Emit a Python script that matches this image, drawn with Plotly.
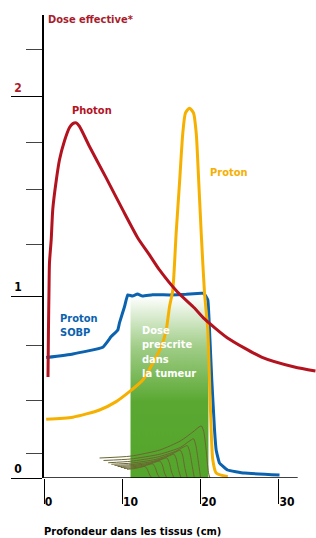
import plotly.graph_objects as go

# ---------------- data (depth in cm, relative effective dose) ----------------
photon_depth = [0.51, 0.57, 0.64, 0.70, 0.92, 1.12, 1.56, 1.98, 2.62, 3.26, 3.68, 4.11, 4.53,
                5.81, 7.94, 10.06, 11.98, 13.47, 14.75, 17.05, 19.22, 20.50, 23.44, 27.78, 31.99, 34.67]
photon_dose = [0.53, 0.78, 0.99, 1.13, 1.25, 1.41, 1.56, 1.67, 1.77, 1.84, 1.86, 1.864, 1.845,
               1.74, 1.575, 1.407, 1.26, 1.171, 1.092, 0.976, 0.892, 0.835, 0.735, 0.635, 0.583, 0.562]

proton_depth = [0.28, 3.68, 7.09, 9.22, 10.92, 12.62, 13.89, 14.97, 15.61, 16.03, 16.45, 16.88,
                17.31, 17.73, 18.07, 18.58, 19.09, 19.44, 19.77, 20.08, 20.50, 20.92, 21.14, 21.35,
                21.56, 21.99, 23.47]
proton_dose = [0.308, 0.319, 0.357, 0.401, 0.453, 0.514, 0.602, 0.689, 0.777, 0.899, 0.987, 1.286,
               1.549, 1.811, 1.916, 1.941, 1.916, 1.811, 1.549, 1.286, 0.971, 0.777, 0.514, 0.252,
               0.094, 0.026, 0.007]

sobp_depth = [0.28, 3.68, 7.51, 8.58, 9.43, 9.64, 10.28, 10.70, 11.30, 11.94, 12.58, 13.86, 16.03,
              18.16, 20.08, 20.41, 20.92, 21.14, 21.43, 21.78, 21.99, 22.41, 23.44, 25.61, 30.08]
sobp_dose = [0.632, 0.651, 0.686, 0.742, 0.777, 0.814, 0.899, 0.961, 0.955, 0.966, 0.955, 0.962,
             0.961, 0.964, 0.970, 0.970, 0.934, 0.777, 0.514, 0.252, 0.147, 0.079, 0.042, 0.026, 0.016]

# individual (pristine) Bragg peaks summed into the SOBP
pristine_depths = [
    [7.1, 11.1, 14.8, 17.4, 19.0, 19.8, 20.1, 20.4, 20.7, 21.0, 21.2],
    [7.6, 11.1, 14.8, 17.4, 18.5, 19.1, 19.4, 19.7, 20.0],
    [8.2, 11.1, 14.5, 16.8, 17.8, 18.3, 18.6, 18.9, 19.2],
    [8.6, 11.1, 14.2, 16.2, 17.0, 17.4, 17.7, 18.0, 18.3],
    [9.0, 11.1, 13.8, 15.5, 16.2, 16.6, 16.9, 17.2, 17.5],
    [9.4, 11.1, 13.4, 14.8, 15.4, 15.7, 16.0, 16.3, 16.6],
    [9.8, 11.1, 13.0, 14.0, 14.5, 14.8, 15.1, 15.4, 15.7],
    [10.2, 11.1, 12.5, 13.2, 13.6, 13.9, 14.2, 14.5, 14.8],
    [10.6, 11.5, 12.2, 12.6, 12.9, 13.2, 13.5, 13.8],
]
pristine_doses = [
    [0.105, 0.115, 0.147, 0.194, 0.241, 0.268, 0.273, 0.245, 0.15, 0.03, 0.0],
    [0.092, 0.100, 0.125, 0.160, 0.192, 0.206, 0.17, 0.09, 0.0],
    [0.080, 0.088, 0.110, 0.140, 0.162, 0.170, 0.14, 0.07, 0.0],
    [0.072, 0.078, 0.097, 0.124, 0.140, 0.146, 0.12, 0.05, 0.0],
    [0.066, 0.070, 0.086, 0.108, 0.120, 0.125, 0.10, 0.04, 0.0],
    [0.060, 0.064, 0.077, 0.094, 0.103, 0.106, 0.08, 0.03, 0.0],
    [0.055, 0.058, 0.069, 0.080, 0.087, 0.089, 0.07, 0.025, 0.0],
    [0.050, 0.052, 0.060, 0.068, 0.073, 0.074, 0.055, 0.02, 0.0],
    [0.046, 0.049, 0.055, 0.059, 0.061, 0.045, 0.015, 0.0],
]

tumor_start, tumor_end, tumor_dose = 11.05, 21.0, 0.955

x_tickvals = [0, 10, 20, 30]
x_ticktext = ["0", "10", "20", "30"]
y_tickvals = [0, 0.955, 2.0]
y_ticktext = ["0", "1", "<span style='color:#a81c2c'>2</span>"]
y_minor_vals = [0.131, 0.409, 0.698, 1.223, 1.512, 1.759, 2.247]

# ---------------- styling ----------------
FONT = "Liberation Sans Narrow, DejaVu Sans Condensed, Arial Narrow, sans-serif"
RED = "#b3121f"
DARKRED = "#a81c2c"
BLUE = "#0b62ae"
ORANGE = "#f6b000"
GREEN = "rgb(84,165,43)"
OLIVE = "#6b6631"
FS = 11

fig = go.Figure()

fig.add_trace(go.Scatter(
    x=[tumor_start, tumor_end, tumor_end, tumor_start, tumor_start],
    y=[0, 0, tumor_dose, tumor_dose, 0],
    fill="toself", mode="none", hoverinfo="skip",
    fillgradient=dict(type="vertical", start=0, stop=tumor_dose,
                      colorscale=[[0, GREEN], [0.42, "rgb(90,168,50)"],
                                  [0.72, "rgb(160,205,135)"], [1, "rgb(255,255,255)"]]),
))

for xs, ys in zip(pristine_depths, pristine_doses):
    fig.add_trace(go.Scatter(x=xs, y=ys, mode="lines", hoverinfo="skip",
                             line=dict(color=OLIVE, width=1, shape="spline", smoothing=0.6)))

fig.add_trace(go.Scatter(x=sobp_depth, y=sobp_dose, mode="lines",
                         line=dict(color=BLUE, width=3, shape="spline", smoothing=0.3)))
fig.add_trace(go.Scatter(x=proton_depth, y=proton_dose, mode="lines",
                         line=dict(color=ORANGE, width=3, shape="spline", smoothing=0.6)))
fig.add_trace(go.Scatter(x=photon_depth, y=photon_dose, mode="lines",
                         line=dict(color=RED, width=3, shape="spline", smoothing=0.6)))

lab = dict(family=FONT, size=FS, weight="bold")
fig.add_annotation(x=6.13, y=1.927, text="Photon", showarrow=False,
                   font=dict(lab, color=RED))
fig.add_annotation(x=21.0, y=1.603, text="Proton", showarrow=False, xanchor="left",
                   font=dict(lab, color=ORANGE))
fig.add_annotation(x=1.76, y=0.80, text="Proton<br>SOBP", showarrow=False, xanchor="left",
                   align="left", font=dict(lab, color=BLUE))
fig.add_annotation(x=12.3, y=0.659, text="Dose<br>prescrite<br>dans<br>la tumeur", showarrow=False,
                   xanchor="left", align="left", font=dict(lab, color="white"))

fig.add_annotation(xref="paper", yref="paper", x=0, y=1, xanchor="left", yanchor="middle",
                   xshift=2, yshift=-4, text="Dose effective*", showarrow=False,
                   font=dict(lab, color=DARKRED))
fig.add_annotation(xref="paper", yref="paper", x=0, y=0, xanchor="left", yanchor="middle",
                   xshift=-2, yshift=-53, text="Profondeur dans les tissus (cm)", showarrow=False,
                   font=dict(lab, color="black"))

fig.add_shape(type="line", xref="x", yref="y", x0=0, x1=32.4, y0=0, y1=0,
              line=dict(color="black", width=1.5), layer="above")

fig.update_layout(
    width=316, height=538,
    margin=dict(l=44, r=0, t=15, b=60, autoexpand=False),
    paper_bgcolor="white", plot_bgcolor="white",
    showlegend=False,
    xaxis=dict(range=[0, 34.74], showgrid=False, zeroline=False, showline=False,
               automargin=False,
               ticks="outside", ticklen=25, tickwidth=1.3, tickcolor="black",
               tickmode="array", tickvals=x_tickvals, ticktext=x_ticktext,
               ticklabelposition="outside right", ticklabelstandoff=13,
               tickfont=dict(family=FONT, size=FS + 1, weight="bold", color="black")),
    yaxis=dict(range=[0, 2.43], showgrid=False, zeroline=False, showline=True,
               automargin=False,
               linecolor="black", linewidth=1.5,
               ticks="outside", ticklen=31, tickwidth=1.3, tickcolor="black",
               tickmode="array", tickvals=y_tickvals, ticktext=y_ticktext,
               ticklabelposition="outside top", ticklabelstandoff=18,
               tickfont=dict(family=FONT, size=FS + 1, weight="bold", color="black"),
               minor=dict(tickmode="array", tickvals=y_minor_vals, ticks="outside",
                          ticklen=16, tickwidth=1.3, tickcolor="#444")),
)

fig.write_html("out.html", config={"displayModeBar": False},
               post_script="document.body.style.margin='0';")
